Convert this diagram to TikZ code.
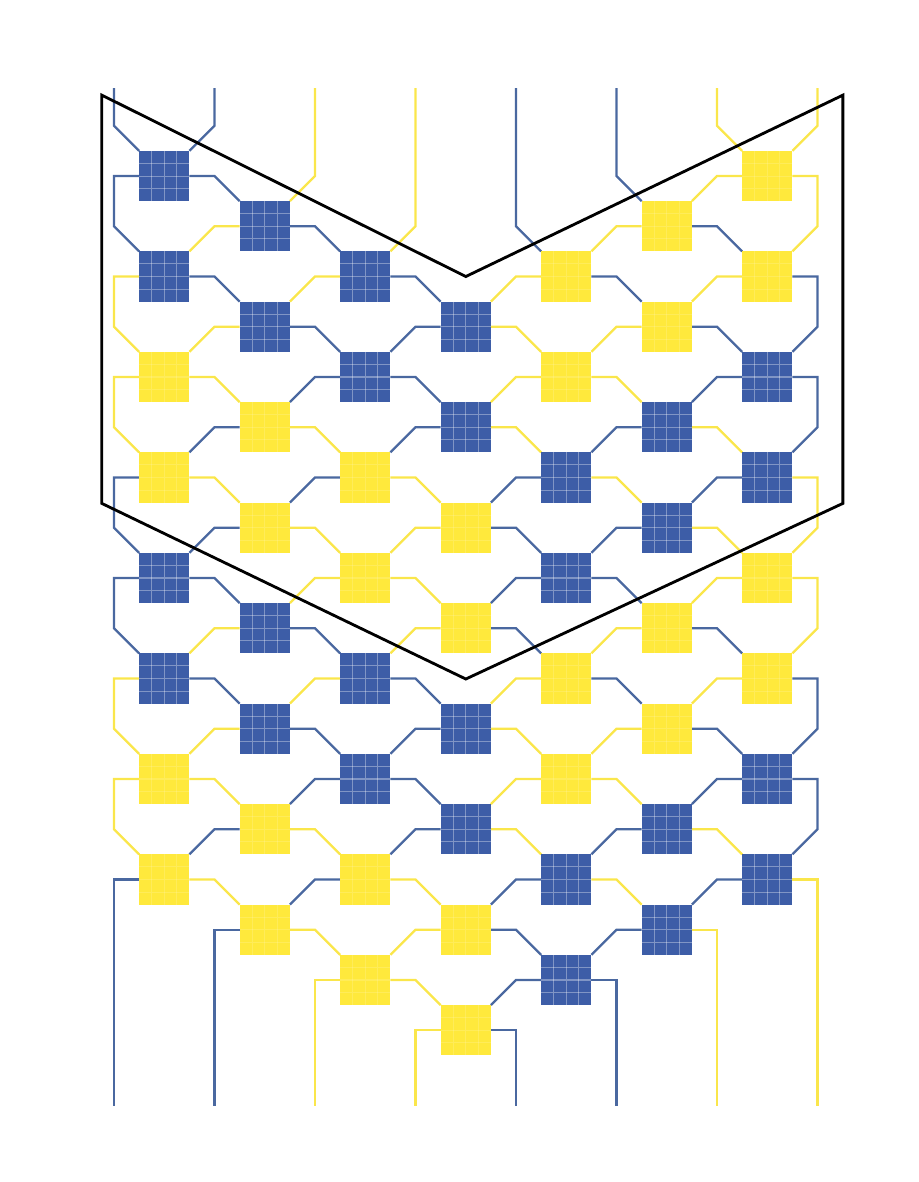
\documentclass[tikz,border=0pt]{standalone}
\usepackage{xcolor}
\usetikzlibrary{calc, backgrounds}

\definecolor{knotblue}{RGB}{61,93,167}
\definecolor{knotyellow}{RGB}{255,233,60}
\definecolor{threadblue}{RGB}{74,104,160}
\definecolor{threadyellow}{RGB}{250,230,75}

\tikzset{
  knot/.style={rectangle, minimum size=0.5cm, inner sep=0pt, outer sep=0pt,
    path picture={
      \foreach \f in {0.25,0.5,0.75}{
        \draw[#1, line width=0.3pt]
          ($(path picture bounding box.south west)!\f!(path picture bounding box.south east)$) --
          ($(path picture bounding box.north west)!\f!(path picture bounding box.north east)$)
          ($(path picture bounding box.south west)!\f!(path picture bounding box.north west)$) --
          ($(path picture bounding box.south east)!\f!(path picture bounding box.north east)$);
      }}},
  bknot/.style={knot={white, opacity=0.35}, fill=knotblue},
  yknot/.style={knot={white, opacity=0.15}, fill=knotyellow},
  bthread/.style={draw=threadblue, line width=0.65pt},
  ythread/.style={draw=threadyellow, line width=0.65pt},
  repeatline/.style={draw=black, line width=0.8pt}
}

\begin{document}
\begin{tikzpicture}[x=1cm, y=-0.5cm]
\useasboundingbox (-0.135,-2.503) rectangle (9.006,21.02);

% strand ends, top and bottom
\coordinate (t1) at (1,-0.75);
\coordinate (t2) at (2,-0.75);
\coordinate (t3) at (3,-0.75);
\coordinate (t4) at (4,-0.75);
\coordinate (t5) at (5,-0.75);
\coordinate (t6) at (6,-0.75);
\coordinate (t7) at (7,-0.75);
\coordinate (t8) at (8,-0.75);

\coordinate (b1) at (1,19.5);
\coordinate (b2) at (2,19.5);
\coordinate (b3) at (3,19.5);
\coordinate (b4) at (4,19.5);
\coordinate (b5) at (5,19.5);
\coordinate (b6) at (6,19.5);
\coordinate (b7) at (7,19.5);
\coordinate (b8) at (8,19.5);

% knots, row by row
\node[bknot] (k1-1) at (1.5,1) {};
\node[yknot] (k1-7) at (7.5,1) {};

\node[bknot] (k2-2) at (2.5,2) {};
\node[yknot] (k2-6) at (6.5,2) {};

\node[bknot] (k3-1) at (1.5,3) {};
\node[bknot] (k3-3) at (3.5,3) {};
\node[yknot] (k3-5) at (5.5,3) {};
\node[yknot] (k3-7) at (7.5,3) {};

\node[bknot] (k4-2) at (2.5,4) {};
\node[bknot] (k4-4) at (4.5,4) {};
\node[yknot] (k4-6) at (6.5,4) {};

\node[yknot] (k5-1) at (1.5,5) {};
\node[bknot] (k5-3) at (3.5,5) {};
\node[yknot] (k5-5) at (5.5,5) {};
\node[bknot] (k5-7) at (7.5,5) {};

\node[yknot] (k6-2) at (2.5,6) {};
\node[bknot] (k6-4) at (4.5,6) {};
\node[bknot] (k6-6) at (6.5,6) {};

\node[yknot] (k7-1) at (1.5,7) {};
\node[yknot] (k7-3) at (3.5,7) {};
\node[bknot] (k7-5) at (5.5,7) {};
\node[bknot] (k7-7) at (7.5,7) {};

\node[yknot] (k8-2) at (2.5,8) {};
\node[yknot] (k8-4) at (4.5,8) {};
\node[bknot] (k8-6) at (6.5,8) {};

\node[bknot] (k9-1) at (1.5,9) {};
\node[yknot] (k9-3) at (3.5,9) {};
\node[bknot] (k9-5) at (5.5,9) {};
\node[yknot] (k9-7) at (7.5,9) {};

\node[bknot] (k10-2) at (2.5,10) {};
\node[yknot] (k10-4) at (4.5,10) {};
\node[yknot] (k10-6) at (6.5,10) {};

\node[bknot] (k11-1) at (1.5,11) {};
\node[bknot] (k11-3) at (3.5,11) {};
\node[yknot] (k11-5) at (5.5,11) {};
\node[yknot] (k11-7) at (7.5,11) {};

\node[bknot] (k12-2) at (2.5,12) {};
\node[bknot] (k12-4) at (4.5,12) {};
\node[yknot] (k12-6) at (6.5,12) {};

\node[yknot] (k13-1) at (1.5,13) {};
\node[bknot] (k13-3) at (3.5,13) {};
\node[yknot] (k13-5) at (5.5,13) {};
\node[bknot] (k13-7) at (7.5,13) {};

\node[yknot] (k14-2) at (2.5,14) {};
\node[bknot] (k14-4) at (4.5,14) {};
\node[bknot] (k14-6) at (6.5,14) {};

\node[yknot] (k15-1) at (1.5,15) {};
\node[yknot] (k15-3) at (3.5,15) {};
\node[bknot] (k15-5) at (5.5,15) {};
\node[bknot] (k15-7) at (7.5,15) {};

\node[yknot] (k16-2) at (2.5,16) {};
\node[yknot] (k16-4) at (4.5,16) {};
\node[bknot] (k16-6) at (6.5,16) {};

\node[yknot] (k17-3) at (3.5,17) {};
\node[bknot] (k17-5) at (5.5,17) {};

\node[yknot] (k18-4) at (4.5,18) {};

\begin{scope}[on background layer]
% strands coming in from the top
\draw[bthread] (t1) -- (1,0) -- (k1-1.north west);
\draw[bthread] (t2) -- (2,0) -- (k1-1.north east);
\draw[ythread] (t3) -- (3,1) -- (k2-2.north east);
\draw[ythread] (t4) -- (4,2) -- (k3-3.north east);
\draw[bthread] (t5) -- (5,2) -- (k3-5.north west);
\draw[bthread] (t6) -- (6,1) -- (k2-6.north west);
\draw[ythread] (t7) -- (7,0) -- (k1-7.north west);
\draw[ythread] (t8) -- (8,0) -- (k1-7.north east);

% row 1
\draw[bthread] (k1-1.west) -- ++(-0.25,0) -- ++(0,1) -- (k3-1.north west);
\draw[bthread] (k1-1.east) -- ++(0.25,0) -- (k2-2.north west);
\draw[ythread] (k1-7.west) -- ++(-0.25,0) -- (k2-6.north east);
\draw[ythread] (k1-7.east) -- ++(0.25,0) -- ++(0,1) -- (k3-7.north east);

% row 2
\draw[ythread] (k2-2.west) -- ++(-0.25,0) -- (k3-1.north east);
\draw[bthread] (k2-2.east) -- ++(0.25,0) -- (k3-3.north west);
\draw[ythread] (k2-6.west) -- ++(-0.25,0) -- (k3-5.north east);
\draw[bthread] (k2-6.east) -- ++(0.25,0) -- (k3-7.north west);

% row 3
\draw[ythread] (k3-1.west) -- ++(-0.25,0) -- ++(0,1) -- (k5-1.north west);
\draw[bthread] (k3-1.east) -- ++(0.25,0) -- (k4-2.north west);
\draw[ythread] (k3-3.west) -- ++(-0.25,0) -- (k4-2.north east);
\draw[bthread] (k3-3.east) -- ++(0.25,0) -- (k4-4.north west);
\draw[ythread] (k3-5.west) -- ++(-0.25,0) -- (k4-4.north east);
\draw[bthread] (k3-5.east) -- ++(0.25,0) -- (k4-6.north west);
\draw[ythread] (k3-7.west) -- ++(-0.25,0) -- (k4-6.north east);
\draw[bthread] (k3-7.east) -- ++(0.25,0) -- ++(0,1) -- (k5-7.north east);

% row 4
\draw[ythread] (k4-2.west) -- ++(-0.25,0) -- (k5-1.north east);
\draw[bthread] (k4-2.east) -- ++(0.25,0) -- (k5-3.north west);
\draw[bthread] (k4-4.west) -- ++(-0.25,0) -- (k5-3.north east);
\draw[ythread] (k4-4.east) -- ++(0.25,0) -- (k5-5.north west);
\draw[ythread] (k4-6.west) -- ++(-0.25,0) -- (k5-5.north east);
\draw[bthread] (k4-6.east) -- ++(0.25,0) -- (k5-7.north west);

% row 5
\draw[ythread] (k5-1.west) -- ++(-0.25,0) -- ++(0,1) -- (k7-1.north west);
\draw[ythread] (k5-1.east) -- ++(0.25,0) -- (k6-2.north west);
\draw[bthread] (k5-3.west) -- ++(-0.25,0) -- (k6-2.north east);
\draw[bthread] (k5-3.east) -- ++(0.25,0) -- (k6-4.north west);
\draw[ythread] (k5-5.west) -- ++(-0.25,0) -- (k6-4.north east);
\draw[ythread] (k5-5.east) -- ++(0.25,0) -- (k6-6.north west);
\draw[bthread] (k5-7.west) -- ++(-0.25,0) -- (k6-6.north east);
\draw[bthread] (k5-7.east) -- ++(0.25,0) -- ++(0,1) -- (k7-7.north east);

% row 6
\draw[bthread] (k6-2.west) -- ++(-0.25,0) -- (k7-1.north east);
\draw[ythread] (k6-2.east) -- ++(0.25,0) -- (k7-3.north west);
\draw[bthread] (k6-4.west) -- ++(-0.25,0) -- (k7-3.north east);
\draw[ythread] (k6-4.east) -- ++(0.25,0) -- (k7-5.north west);
\draw[bthread] (k6-6.west) -- ++(-0.25,0) -- (k7-5.north east);
\draw[ythread] (k6-6.east) -- ++(0.25,0) -- (k7-7.north west);

% row 7
\draw[bthread] (k7-1.west) -- ++(-0.25,0) -- ++(0,1) -- (k9-1.north west);
\draw[ythread] (k7-1.east) -- ++(0.25,0) -- (k8-2.north west);
\draw[bthread] (k7-3.west) -- ++(-0.25,0) -- (k8-2.north east);
\draw[ythread] (k7-3.east) -- ++(0.25,0) -- (k8-4.north west);
\draw[bthread] (k7-5.west) -- ++(-0.25,0) -- (k8-4.north east);
\draw[ythread] (k7-5.east) -- ++(0.25,0) -- (k8-6.north west);
\draw[bthread] (k7-7.west) -- ++(-0.25,0) -- (k8-6.north east);
\draw[ythread] (k7-7.east) -- ++(0.25,0) -- ++(0,1) -- (k9-7.north east);

% row 8
\draw[bthread] (k8-2.west) -- ++(-0.25,0) -- (k9-1.north east);
\draw[ythread] (k8-2.east) -- ++(0.25,0) -- (k9-3.north west);
\draw[ythread] (k8-4.west) -- ++(-0.25,0) -- (k9-3.north east);
\draw[bthread] (k8-4.east) -- ++(0.25,0) -- (k9-5.north west);
\draw[bthread] (k8-6.west) -- ++(-0.25,0) -- (k9-5.north east);
\draw[ythread] (k8-6.east) -- ++(0.25,0) -- (k9-7.north west);

% row 9
\draw[bthread] (k9-1.west) -- ++(-0.25,0) -- ++(0,1) -- (k11-1.north west);
\draw[bthread] (k9-1.east) -- ++(0.25,0) -- (k10-2.north west);
\draw[ythread] (k9-3.west) -- ++(-0.25,0) -- (k10-2.north east);
\draw[ythread] (k9-3.east) -- ++(0.25,0) -- (k10-4.north west);
\draw[bthread] (k9-5.west) -- ++(-0.25,0) -- (k10-4.north east);
\draw[bthread] (k9-5.east) -- ++(0.25,0) -- (k10-6.north west);
\draw[ythread] (k9-7.west) -- ++(-0.25,0) -- (k10-6.north east);
\draw[ythread] (k9-7.east) -- ++(0.25,0) -- ++(0,1) -- (k11-7.north east);

% row 10
\draw[ythread] (k10-2.west) -- ++(-0.25,0) -- (k11-1.north east);
\draw[bthread] (k10-2.east) -- ++(0.25,0) -- (k11-3.north west);
\draw[ythread] (k10-4.west) -- ++(-0.25,0) -- (k11-3.north east);
\draw[bthread] (k10-4.east) -- ++(0.25,0) -- (k11-5.north west);
\draw[ythread] (k10-6.west) -- ++(-0.25,0) -- (k11-5.north east);
\draw[bthread] (k10-6.east) -- ++(0.25,0) -- (k11-7.north west);

% row 11
\draw[ythread] (k11-1.west) -- ++(-0.25,0) -- ++(0,1) -- (k13-1.north west);
\draw[bthread] (k11-1.east) -- ++(0.25,0) -- (k12-2.north west);
\draw[ythread] (k11-3.west) -- ++(-0.25,0) -- (k12-2.north east);
\draw[bthread] (k11-3.east) -- ++(0.25,0) -- (k12-4.north west);
\draw[ythread] (k11-5.west) -- ++(-0.25,0) -- (k12-4.north east);
\draw[bthread] (k11-5.east) -- ++(0.25,0) -- (k12-6.north west);
\draw[ythread] (k11-7.west) -- ++(-0.25,0) -- (k12-6.north east);
\draw[bthread] (k11-7.east) -- ++(0.25,0) -- ++(0,1) -- (k13-7.north east);

% row 12
\draw[ythread] (k12-2.west) -- ++(-0.25,0) -- (k13-1.north east);
\draw[bthread] (k12-2.east) -- ++(0.25,0) -- (k13-3.north west);
\draw[bthread] (k12-4.west) -- ++(-0.25,0) -- (k13-3.north east);
\draw[ythread] (k12-4.east) -- ++(0.25,0) -- (k13-5.north west);
\draw[ythread] (k12-6.west) -- ++(-0.25,0) -- (k13-5.north east);
\draw[bthread] (k12-6.east) -- ++(0.25,0) -- (k13-7.north west);

% row 13
\draw[ythread] (k13-1.west) -- ++(-0.25,0) -- ++(0,1) -- (k15-1.north west);
\draw[ythread] (k13-1.east) -- ++(0.25,0) -- (k14-2.north west);
\draw[bthread] (k13-3.west) -- ++(-0.25,0) -- (k14-2.north east);
\draw[bthread] (k13-3.east) -- ++(0.25,0) -- (k14-4.north west);
\draw[ythread] (k13-5.west) -- ++(-0.25,0) -- (k14-4.north east);
\draw[ythread] (k13-5.east) -- ++(0.25,0) -- (k14-6.north west);
\draw[bthread] (k13-7.west) -- ++(-0.25,0) -- (k14-6.north east);
\draw[bthread] (k13-7.east) -- ++(0.25,0) -- ++(0,1) -- (k15-7.north east);

% row 14
\draw[bthread] (k14-2.west) -- ++(-0.25,0) -- (k15-1.north east);
\draw[ythread] (k14-2.east) -- ++(0.25,0) -- (k15-3.north west);
\draw[bthread] (k14-4.west) -- ++(-0.25,0) -- (k15-3.north east);
\draw[ythread] (k14-4.east) -- ++(0.25,0) -- (k15-5.north west);
\draw[bthread] (k14-6.west) -- ++(-0.25,0) -- (k15-5.north east);
\draw[ythread] (k14-6.east) -- ++(0.25,0) -- (k15-7.north west);

% row 15
\draw[bthread] (k15-1.west) -| (b1);
\draw[ythread] (k15-1.east) -- ++(0.25,0) -- (k16-2.north west);
\draw[bthread] (k15-3.west) -- ++(-0.25,0) -- (k16-2.north east);
\draw[ythread] (k15-3.east) -- ++(0.25,0) -- (k16-4.north west);
\draw[bthread] (k15-5.west) -- ++(-0.25,0) -- (k16-4.north east);
\draw[ythread] (k15-5.east) -- ++(0.25,0) -- (k16-6.north west);
\draw[bthread] (k15-7.west) -- ++(-0.25,0) -- (k16-6.north east);
\draw[ythread] (k15-7.east) -| (b8);

% row 16
\draw[bthread] (k16-2.west) -| (b2);
\draw[ythread] (k16-2.east) -- ++(0.25,0) -- (k17-3.north west);
\draw[ythread] (k16-4.west) -- ++(-0.25,0) -- (k17-3.north east);
\draw[bthread] (k16-4.east) -- ++(0.25,0) -- (k17-5.north west);
\draw[bthread] (k16-6.west) -- ++(-0.25,0) -- (k17-5.north east);
\draw[ythread] (k16-6.east) -| (b7);

% rows 17 and 18
\draw[ythread] (k17-3.west) -| (b3);
\draw[ythread] (k17-3.east) -- ++(0.25,0) -- (k18-4.north west);
\draw[bthread] (k17-5.west) -- ++(-0.25,0) -- (k18-4.north east);
\draw[bthread] (k17-5.east) -| (b6);
\draw[ythread] (k18-4.west) -| (b4);
\draw[bthread] (k18-4.east) -| (b5);
\end{scope}

% one repeat of the pattern
\draw[repeatline] (0.878,-0.61) -- (4.5,3) -- (8.252,-0.61) -- (8.252,7.515) -- (4.5,11.01) -- (0.878,7.515) -- cycle;
\end{tikzpicture}
\end{document}
